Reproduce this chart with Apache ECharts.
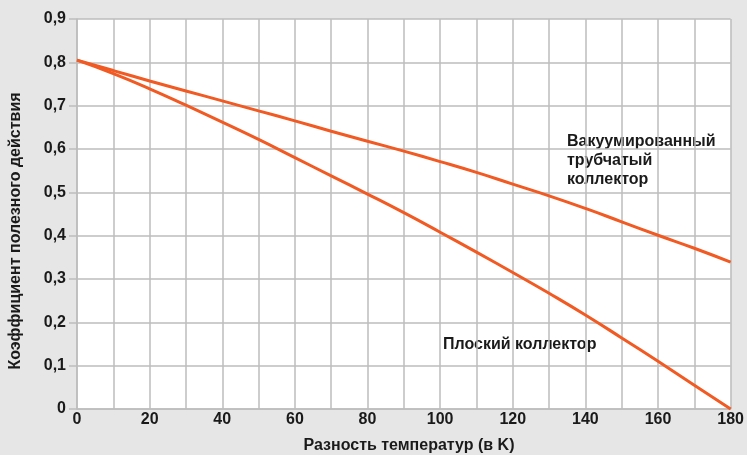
<!DOCTYPE html>
<html>
<head>
<meta charset="utf-8">
<script src="https://cdn.jsdelivr.net/npm/echarts@6/dist/echarts.min.js"></script>
<style>
html,body{margin:0;padding:0;background:#e5e6e5;}
#c{width:747px;height:455px;}
</style>
</head>
<body>
<div id="c"></div>
<script>
var xValues = [0,10,20,30,40,50,60,70,80,90,100,110,120,130,140,150,160,170,180];
var vacuumValues = [0.805,0.781,0.757,0.734,0.711,0.688,0.665,0.641,0.618,0.595,0.571,0.546,0.519,0.492,0.463,0.432,0.401,0.371,0.339];
var flatValues = [0.805,0.774,0.739,0.701,0.662,0.622,0.580,0.538,0.496,0.453,0.408,0.362,0.315,0.267,0.217,0.164,0.110,0.055,0.0];
var seriesNames = ['Вакуумированный трубчатый коллектор','Плоский коллектор'];
var xAxisTitle = 'Разность температур (в K)';
var yAxisTitle = 'Коэффициент полезного действия';

var font = 'Liberation Sans, Arial, Helvetica, sans-serif';
var chart = echarts.init(document.getElementById('c'));
function pairs(vals){ return xValues.map(function(x,i){ return [x, vals[i]]; }); }
var lineColor = '#f15a22';
chart.setOption({
  backgroundColor: '#e5e6e5',
  animation: false,
  grid: {left: 77, right: 16, top: 19, bottom: 46, show: true, backgroundColor: '#ffffff', borderWidth: 0},
  xAxis: {
    type: 'value', min: 0, max: 180, interval: 10,
    axisLine: {show: true, lineStyle: {color: '#bdbdbd', width: 1.5}},
    axisTick: {show: false},
    splitLine: {show: true, lineStyle: {color: '#bdbdbd', width: 1.5}},
    axisLabel: {
      margin: 3, color: '#1a1a1a', fontFamily: font, fontWeight: 'bold', fontSize: 16,
      formatter: function(v){ return v % 20 === 0 ? String(v) : ''; }
    }
  },
  yAxis: {
    type: 'value', min: 0, max: 0.9, interval: 0.1,
    axisLine: {show: true, lineStyle: {color: '#bdbdbd', width: 1.5}},
    axisTick: {show: true, length: 8, lineStyle: {color: '#bdbdbd', width: 1.5}},
    splitLine: {show: true, lineStyle: {color: '#bdbdbd', width: 1.5}},
    axisLabel: {
      margin: 11, color: '#1a1a1a', fontFamily: font, fontWeight: 'bold', fontSize: 16,
      formatter: function(v){ return v === 0 ? '0' : v.toFixed(1).replace('.', ','); }
    }
  },
  series: [
    {name: seriesNames[0], type: 'line', data: pairs(vacuumValues), showSymbol: false, smooth: true,
     lineStyle: {color: lineColor, width: 3}, itemStyle: {color: lineColor}},
    {name: seriesNames[1], type: 'line', data: pairs(flatValues), showSymbol: false, smooth: true,
     lineStyle: {color: lineColor, width: 3}, itemStyle: {color: lineColor}}
  ],
  graphic: [
    {type: 'text', left: 567, top: 132, style: {text: 'Вакуумированный\nтрубчатый\nколлектор', font: 'bold 16px ' + font, fill: '#1a1a1a', lineHeight: 19}},
    {type: 'text', left: 443, top: 337, style: {text: seriesNames[1], font: 'bold 16px ' + font, fill: '#1a1a1a'}},
    {type: 'text', x: 409, y: 446, style: {text: xAxisTitle, font: 'bold 16px ' + font, fill: '#1a1a1a', align: 'center', verticalAlign: 'middle'}},
    {type: 'text', x: 16, y: 231, rotation: Math.PI/2, style: {text: yAxisTitle, font: 'bold 16px ' + font, fill: '#1a1a1a', align: 'center', verticalAlign: 'middle'}}
  ]
});
</script>
</body>
</html>
